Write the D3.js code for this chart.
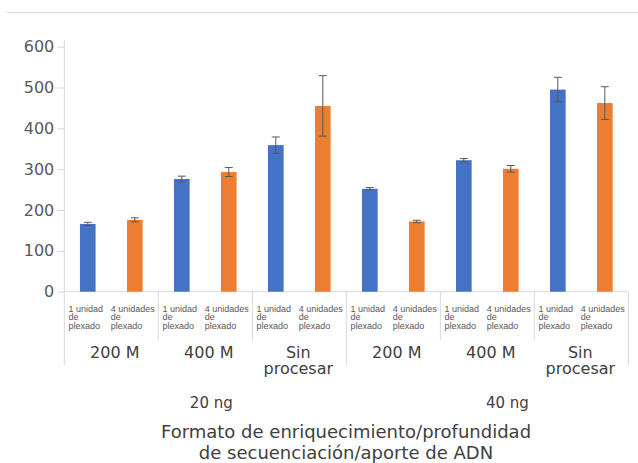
<!DOCTYPE html>
<html>
<head>
<meta charset="utf-8">
<script src="https://cdn.jsdelivr.net/npm/d3@7"></script>
<style>
  body { margin: 0; background: #fff; }
  svg { display: block; font-family: "DejaVu Sans", Verdana, sans-serif; }
</style>
</head>
<body>
<svg id="chart" width="638" height="463"></svg>
<script>
// DNA input amounts (outer category level)
const inputs = ["20 ng", "40 ng"];
// sequencing depths (middle level), wrapped as drawn
const depths = [["200 M"], ["400 M"], ["Sin", "procesar"]];
// enrichment formats (inner level), wrapped as drawn
const formats = [["1 unidad", "de", "plexado"], ["4 unidades", "de", "plexado"]];

// values per input/depth group: 20 ng (200 M, 400 M, Sin procesar), then 40 ng
const oneUnit      = [166, 276, 359, 252, 322, 495];
const oneUnitErr   = [4, 7, 20, 3, 4, 30];
const fourUnits    = [176, 293, 455, 172, 301, 462];
const fourUnitsErr = [5, 11, 74, 3, 8, 40];

const yTicks = [0, 100, 200, 300, 400, 500, 600];
const axisTitle = ["Formato de enriquecimiento/profundidad", "de secuenciación/aporte de ADN"];

const colors = ["#4472C4", "#ED7D31"];
const axisColor = "#d9d9d9";
const textColor = "#595959";
const labelColor = "#404040";

// flat list of bars in drawing order
const bars = [];
inputs.forEach((inp, i) => {
  depths.forEach((dep, d) => {
    const g = i * depths.length + d;
    bars.push({ input: i, depth: d, format: 0, value: oneUnit[g], err: oneUnitErr[g] });
    bars.push({ input: i, depth: d, format: 1, value: fourUnits[g], err: fourUnitsErr[g] });
  });
});

const svg = d3.select("#chart");
const left = 64.3, right = 628.3, baseY = 291.7, topY = 46.7;

const x = d3.scaleBand()
  .domain(d3.range(bars.length))
  .range([left, right])
  .paddingInner(0.667)
  .paddingOuter(0.333);
const step = x.step();
const y = d3.scaleLinear().domain([0, 600]).range([baseY, topY]);

// top rule
svg.append("line")
  .attr("x1", 7).attr("x2", 638).attr("y1", 12.5).attr("y2", 12.5)
  .attr("stroke", axisColor).attr("stroke-width", 1);

// y axis
const yAxis = d3.axisLeft(y).tickValues(yTicks).tickSize(7).tickPadding(3);
const yg = svg.append("g").attr("transform", `translate(${left},0)`).call(yAxis);
yg.select(".domain").remove();
yg.selectAll(".tick line").attr("stroke", axisColor);
yg.selectAll(".tick text")
  .attr("fill", textColor)
  .style("font-family", "'DejaVu Sans', Verdana, sans-serif")
  .style("font-size", "16px");
svg.append("line")
  .attr("x1", left).attr("x2", left).attr("y1", 40).attr("y2", baseY)
  .attr("stroke", axisColor);

// x axis baseline
svg.append("line")
  .attr("x1", left).attr("x2", right).attr("y1", baseY).attr("y2", baseY)
  .attr("stroke", axisColor);

// bars
svg.append("g").selectAll("rect")
  .data(bars)
  .join("rect")
  .attr("x", (d, i) => x(i))
  .attr("width", x.bandwidth())
  .attr("y", d => y(d.value))
  .attr("height", d => baseY - y(d.value))
  .attr("fill", d => colors[d.format]);

// error bars
const eg = svg.append("g").attr("stroke", "#595959").attr("stroke-width", 1);
bars.forEach((d, i) => {
  const cx = x(i) + x.bandwidth() / 2;
  const y1 = y(d.value + d.err), y2 = y(d.value - d.err);
  eg.append("line").attr("x1", cx).attr("x2", cx).attr("y1", y1).attr("y2", y2);
  eg.append("line").attr("x1", cx - 4).attr("x2", cx + 4).attr("y1", y1).attr("y2", y1);
  eg.append("line").attr("x1", cx - 4).attr("x2", cx + 4).attr("y1", y2).attr("y2", y2);
});

// category separators
const groupCount = inputs.length * depths.length;
for (let k = 0; k <= groupCount; k++) {
  const gx = left + k * 2 * step;
  const outer = k % depths.length === 0;
  svg.append("line")
    .attr("x1", gx).attr("x2", gx)
    .attr("y1", baseY).attr("y2", outer ? 365 : 340)
    .attr("stroke", axisColor);
}

// inner level: format labels, left-aligned block centred in its slot
const fl = svg.append("g")
  .style("font-family", "'Liberation Sans', Arial, sans-serif")
  .style("font-size", "9px")
  .attr("fill", textColor);
bars.forEach((d, i) => {
  const lines = formats[d.format];
  const t = fl.append("text").attr("y", 311.5);
  lines.forEach((ln, j) => {
    t.append("tspan").attr("dy", j === 0 ? 0 : 8.7).text(ln);
  });
  const w = d3.max(t.selectAll("tspan").nodes(), n => n.getComputedTextLength());
  const cx = x(i) + x.bandwidth() / 2 - 2;
  t.selectAll("tspan").attr("x", cx - w / 2);
});

// middle level: depth labels
const dl = svg.append("g")
  .style("font-size", "16px")
  .attr("fill", labelColor)
  .attr("text-anchor", "middle");
for (let g = 0; g < groupCount; g++) {
  const lines = depths[g % depths.length];
  const cx = left + (g * 2 + 1) * step + (lines.length === 1 ? 3.5 : -1);
  const t = dl.append("text").attr("y", 358);
  lines.forEach((ln, j) => {
    t.append("tspan").attr("x", cx).attr("dy", j === 0 ? 0 : 16).text(ln);
  });
}

// outer level: DNA input labels
const inputShift = [6, 20];
svg.append("g")
  .style("font-size", "15px")
  .attr("fill", labelColor)
  .attr("text-anchor", "middle")
  .selectAll("text")
  .data(inputs)
  .join("text")
  .attr("x", (d, i) => left + (i + 0.5) * depths.length * 2 * step + inputShift[i])
  .attr("y", 407.5)
  .text(d => d);

// axis title
const tt = svg.append("text")
  .attr("text-anchor", "middle")
  .attr("fill", labelColor)
  .style("font-size", "18px")
  .attr("y", 437.5);
axisTitle.forEach((ln, j) => {
  tt.append("tspan").attr("x", 346).attr("dy", j === 0 ? 0 : 21).text(ln);
});
</script>
</body>
</html>
